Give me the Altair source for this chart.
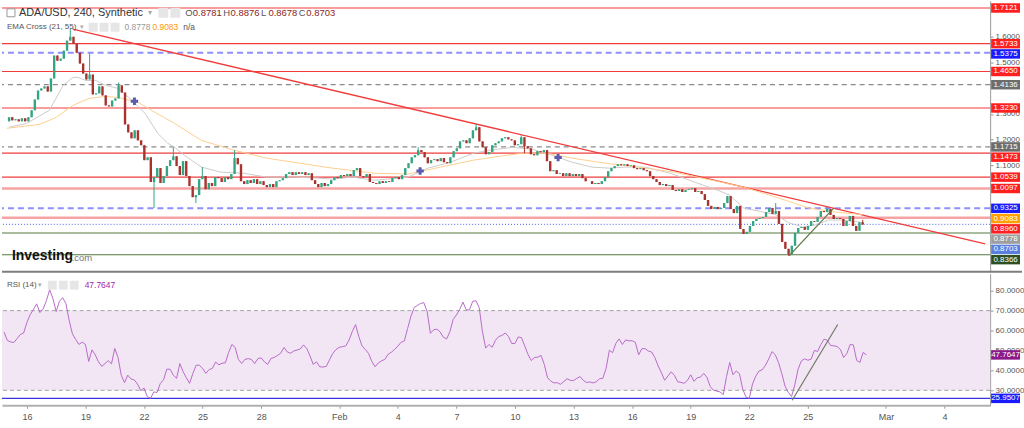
import altair as alt
import pandas as pd

# ---------------- data ----------------
# 4h candles, first bar Jan 14 20:00; time axis = days from Jan 16 00:00
first_bar_day = -7 / 6
bar_days = 4 / 24
first_open = 1.271
closes = [
    1.287, 1.275, 1.279, 1.271, 1.283, 1.271, 1.287, 1.314, 1.356, 1.391,
    1.399, 1.407, 1.387, 1.438, 1.527, 1.507, 1.515, 1.546, 1.585, 1.600,
    1.573, 1.538, 1.496, 1.457, 1.434, 1.453, 1.376, 1.380, 1.407, 1.372,
    1.333, 1.329, 1.352, 1.360, 1.411, 1.383, 1.259, 1.228, 1.205, 1.236,
    1.197, 1.178, 1.120, 1.131, 1.035, 1.054, 1.089, 1.031, 1.058, 1.097,
    1.120, 1.135, 1.097, 1.062, 1.116, 1.058, 1.019, 0.976, 0.984, 1.046,
    1.058, 1.007, 1.031, 1.019, 1.054, 1.050, 1.035, 1.054, 1.046, 1.066,
    1.128, 1.104, 1.038, 1.027, 1.042, 1.031, 1.046, 1.027, 1.038, 1.023,
    1.015, 1.027, 1.015, 1.038, 1.042, 1.050, 1.066, 1.073, 1.062, 1.073,
    1.066, 1.073, 1.062, 1.069, 1.042, 1.027, 1.015, 1.031, 1.019, 1.027,
    1.042, 1.054, 1.050, 1.062, 1.058, 1.066, 1.058, 1.081, 1.089, 1.058,
    1.054, 1.066, 1.035, 1.031, 1.027, 1.038, 1.031, 1.038, 1.035, 1.050,
    1.054, 1.046, 1.062, 1.089, 1.108, 1.131, 1.139, 1.159, 1.151, 1.131,
    1.108, 1.120, 1.124, 1.116, 1.128, 1.112, 1.108, 1.131, 1.155, 1.166,
    1.193, 1.197, 1.186, 1.205, 1.236, 1.248, 1.193, 1.170, 1.143, 1.151,
    1.178, 1.186, 1.193, 1.205, 1.209, 1.201, 1.197, 1.178, 1.182, 1.209,
    1.174, 1.166, 1.143, 1.139, 1.155, 1.151, 1.159, 1.116, 1.077, 1.081,
    1.066, 1.069, 1.058, 1.069, 1.058, 1.066, 1.058, 1.066, 1.050, 1.038,
    1.038, 1.027, 1.031, 1.027, 1.038, 1.054, 1.077, 1.089, 1.097, 1.104,
    1.100, 1.104, 1.097, 1.100, 1.089, 1.085, 1.089, 1.081, 1.077, 1.058,
    1.046, 1.035, 1.023, 1.027, 1.019, 1.023, 1.004, 1.000, 1.007, 0.996,
    1.004, 1.007, 1.011, 0.996, 1.000, 0.988, 0.965, 0.942, 0.930, 0.938,
    0.930, 0.934, 0.953, 0.980, 0.930, 0.914, 0.942, 0.852, 0.833, 0.841,
    0.864, 0.883, 0.891, 0.895, 0.899, 0.918, 0.934, 0.911, 0.922, 0.872,
    0.802, 0.775, 0.755, 0.787, 0.837, 0.856, 0.860, 0.849, 0.864, 0.883,
    0.880, 0.899, 0.922, 0.918, 0.930, 0.907, 0.891, 0.895, 0.891, 0.864,
    0.883, 0.903, 0.864, 0.845, 0.8781, 0.8703,
]
wick_high = {19: 1.631, 25: 1.535, 34: 1.422, 51: 1.170, 60: 1.093, 70: 1.159,
             127: 1.170, 145: 1.259, 159: 1.217, 238: 0.953, 254: 0.938, 265: 0.8876}
wick_low = {45: 0.934, 58: 0.953, 160: 1.147, 242: 0.748, 265: 0.8678}

rsi = [
    59.2, 55, 54.3, 54, 56, 58, 58.8, 64, 68, 70.5,
    73.4, 69, 70.8, 75, 80.5, 76, 69.5, 74.7, 76.5, 73.5,
    65, 58.3, 55.5, 53, 54.2, 53, 44.5, 50.3, 47.8, 44.3,
    42, 43.4, 44.9, 43.3, 51, 46.5, 37.6, 33.8, 37.6, 35.7,
    35.2, 33.2, 29.8, 31.1, 26.8, 26, 29.2, 28.9, 33.4, 35.3,
    40.6, 40.6, 37.6, 36, 43.4, 39.4, 36.3, 33.5, 38.4, 42.6,
    42.6, 41, 38.5, 40.4, 41, 44.2, 42.8, 43.6, 43.8, 49,
    53, 51.5, 45.5, 43.5, 45.5, 45.9, 45.5, 43.4, 45.9, 46.3,
    44.3, 43, 46, 46.5, 47.5, 48.6, 51.5, 49.3, 48.6, 49.7,
    50.2, 50.7, 52.8, 51, 47.3, 43, 44.3, 41.8, 41.7, 42,
    45.3, 48.5, 50.5, 51.6, 51.9, 52.3, 55.2, 59.5, 63, 57,
    52.3, 50.5, 48.5, 44.5, 41.8, 43.7, 44.8, 45.5, 48.1, 49.1,
    50.5, 52.2, 54.1, 54.8, 61, 67, 71.5, 72.6, 73.6, 74,
    69.5, 58.6, 60.4, 60.7, 59.3, 56.6, 55.8, 59.4, 65.6, 67.8,
    70.6, 74.3, 70.4, 70.3, 74.6, 75, 71.5, 59.4, 51.2, 53,
    51.6, 55.1, 57, 57.5, 58.8, 57, 53.5, 53.5, 56.8, 56.4,
    52.3, 48, 44.9, 46.5, 46.6, 47.5, 43, 36.3, 34.6, 33.7,
    33.8, 33, 34.4, 35.8, 35, 34.9, 36, 36.9, 35, 33.9,
    34.2, 33.7, 34.3, 35.8, 36, 41, 50.1, 48.9, 53.6, 55.8,
    53, 55.3, 54.8, 54.9, 54, 47.8, 50.9, 50.9, 49.7, 49.2,
    46.4, 42.2, 38.8, 35, 37.2, 39.3, 37.5, 34.3, 34, 33.5,
    35, 37.8, 34.5, 36.3, 36.6, 38.5, 36.5, 31.9, 30, 29.6,
    29.2, 27.8, 36.8, 44, 37.8, 39.7, 38.3, 30.5, 26.6, 26,
    33.2, 37.1, 39.7, 40.3, 42.6, 45.8, 49.4, 47.8, 43.9, 38.4,
    32.1, 28.9, 26.9, 32.8, 40.6, 44.7, 45.8, 45.1, 45.6, 50,
    49.5, 53, 55.7, 55.1, 52.5, 52.3, 52, 50.5, 46.5, 48.5,
    53, 52.8, 45, 44, 49, 47.7647,
]

ema21_day = [-1.17, -0.26, 0.92, 1.63, 2.14, 2.40, 2.81, 3.32, 3.83, 4.49, 5.20, 5.87,
             6.53, 7.04, 7.40, 7.91, 8.78, 9.80, 10.97, 12.14, 13.52, 14.90, 15.56,
             16.58, 17.76, 19.49, 20.51, 21.68, 22.86, 23.72, 24.90, 25.92, 26.94,
             27.96, 28.98, 29.85, 30.71, 31.73, 33.06, 34.44, 35.46, 36.12, 36.84,
             37.86, 38.52, 39.18, 39.90, 40.56, 41.22, 41.94, 42.96]
ema21_val = [1.248, 1.263, 1.314, 1.411, 1.442, 1.442, 1.430, 1.430, 1.411, 1.399, 1.352,
             1.302, 1.224, 1.186, 1.170, 1.139, 1.093, 1.073, 1.069, 1.054, 1.054, 1.050,
             1.046, 1.054, 1.042, 1.054, 1.089, 1.112, 1.147, 1.159, 1.170, 1.162, 1.139,
             1.112, 1.093, 1.089, 1.093, 1.093, 1.069, 1.031, 1.004, 0.984, 0.934, 0.918,
             0.907, 0.876, 0.860, 0.868, 0.887, 0.887, 0.8778]
ema55_day = [-1.28, 0.41, 1.28, 2.14, 2.96, 3.83, 4.49, 5.51, 6.38, 7.40, 8.78, 10.46,
             12.14, 13.88, 15.56, 17.76, 19.49, 21.17, 22.86, 24.59, 25.41, 26.63,
             27.96, 29.69, 31.38, 33.27, 34.44, 35.46, 36.84, 38.52, 40.20, 41.58, 42.96]
ema55_val = [1.244, 1.259, 1.287, 1.333, 1.360, 1.368, 1.364, 1.345, 1.306, 1.263, 1.197,
             1.159, 1.128, 1.108, 1.089, 1.069, 1.066, 1.093, 1.120, 1.139, 1.147, 1.147,
             1.128, 1.108, 1.093, 1.073, 1.054, 1.038, 1.015, 0.976, 0.934, 0.918, 0.9083]

cross_day = [5.32, 20.10, 27.24]
cross_val = [1.349, 1.078, 1.130]

red_levels = [1.7121, 1.5733, 1.4650, 1.3230, 1.1473, 1.0539]
pink_levels = [1.0097, 0.8960]
blue_levels = [1.5375, 0.9325]
gray_levels = [1.4136, 1.1715]
green_levels = [0.8366, 0.7520]
last_price = 0.8703

label_vals = [1.7121, 1.5733, 1.5375, 1.4650, 1.4136, 1.3230, 1.1715, 1.1473, 1.0539,
              1.0097, 0.9325, 0.9083, 0.8960, 0.8778, 0.8703, 0.8366]
label_kind = ["red", "red", "blue", "red", "gray", "red", "gray", "red", "red",
              "red", "blue", "ema55", "red", "ema21", "last", "green"]

trend_red_day = [2.13, 49.34]
trend_red_val = [1.630, 0.794]
trend_green_day = [39.2, 41.5]
trend_green_val = [0.748, 0.933]
rsi_trend_day = [39.2, 41.53]
rsi_trend_val = [25.0, 63.0]
rsi_level = 25.9507
rsi_last = 47.7647

tick_days = [0, 3, 6, 9, 12, 16, 19, 22, 25, 28, 31, 34, 37, 40, 44, 47]
tick_labels = ["16", "19", "22", "25", "28", "Feb", "4", "7", "10", "13", "16", "19",
               "22", "25", "Mar", "4"]
price_ticks = [1.1, 1.2, 1.3, 1.5, 1.6]
rsi_ticks = [30, 40, 50, 60, 70, 80]

# ---------------- layout / style ----------------
FONT = "Liberation Sans"
W, PRICE_H, RSI_H = 992, 272, 132
T0, T1 = -1.2755, 49.337
P_LO, P_HI = 0.6857, 1.740
R_LO, R_HI = 22.5, 88.5
UP, DOWN = "#34a582", "#a8322d"
BOX_H = 9.5

xs = alt.Scale(domain=[T0, T1], nice=False, zero=False)
ps = alt.Scale(domain=[P_LO, P_HI], nice=False, zero=False)
rs = alt.Scale(domain=[R_LO, R_HI], nice=False, zero=False)

axis_common = dict(orient="right", format=".4f", labelFontSize=8, labelColor="#555",
                   labelFont=FONT, tickSize=3, tickColor="#999", domainColor="#999",
                   grid=False, title=None, labelPadding=2)
p_axis = alt.Axis(values=price_ticks, **axis_common)
r_axis = alt.Axis(values=rsi_ticks, **axis_common)

labels_js = "[" + ",".join("'%s'" % s for s in tick_labels) + "]"
vals_js = "[" + ",".join(str(v) for v in tick_days) + "]"
x_axis = alt.Axis(values=tick_days, labelExpr="%s[indexof(%s, datum.value)]" % (labels_js, vals_js),
                  labelFontSize=9, labelColor="#555", labelFont=FONT, tickSize=3,
                  tickColor="#999", domainColor="#b0b0b0", domainWidth=2, grid=False,
                  title=None, labelPadding=4, labelFlush=False)


def PX(f):
    return alt.X(f, type="quantitative", scale=xs, axis=None)


def RX(f):
    return alt.X(f, type="quantitative", scale=xs, axis=x_axis)


def PY(f):
    return alt.Y(f, type="quantitative", scale=ps, axis=p_axis)


def RY(f):
    return alt.Y(f, type="quantitative", scale=rs, axis=r_axis)


one = pd.DataFrame({"k": [0]})


def txt(s, x, y, size, color, weight="normal", align="left"):
    return alt.Chart(one).mark_text(text=s, align=align, baseline="middle", fontSize=size,
                                    color=color, fontWeight=weight, font=FONT).encode(
        x=alt.value(x), y=alt.value(y))


def box(x0, y0, x1, y1, fill, stroke=None):
    kw = dict(color=fill)
    if stroke:
        kw = dict(fill=fill, stroke=stroke, strokeWidth=1)
    return alt.Chart(one).mark_rect(**kw).encode(
        x=alt.value(x0), x2=alt.value(x1), y=alt.value(y0), y2=alt.value(y1))


# ---------------- price panel ----------------
n = len(closes)
opens = [first_open] + closes[:-1]
cdf = pd.DataFrame({
    "t": [first_bar_day + i * bar_days for i in range(n)],
    "open": opens,
    "close": closes,
})
cdf["high"] = [wick_high.get(i, max(opens[i], closes[i])) for i in range(n)]
cdf["low"] = [wick_low.get(i, min(opens[i], closes[i])) for i in range(n)]
cdf["dir"] = ["up" if c >= o else "down" for o, c in zip(opens, closes)]
ccolor = alt.Color("dir:N", scale=alt.Scale(domain=["up", "down"], range=[UP, DOWN]), legend=None)


def level_layer(vals, color, width, dash=None):
    kw = dict(color=color, strokeWidth=width)
    if dash:
        kw["strokeDash"] = dash
    return alt.Chart(pd.DataFrame({"v": vals})).mark_rule(**kw).encode(y=PY("v"))


levels = [
    level_layer(red_levels, "#f23b3b", 1.2),
    level_layer(pink_levels, "#f7a3a3", 2.5),
    level_layer(blue_levels, "#8f8fff", 2, [6, 4]),
    level_layer(gray_levels, "#8a8a8a", 1.3, [5, 4]),
    level_layer(green_levels, "#557a3e", 1.2),
    level_layer([last_price], "#4a5fe8", 1, [1, 2]),
]

trend_red = alt.Chart(pd.DataFrame({"t": trend_red_day, "v": trend_red_val})).mark_line(
    color="#f23b3b", strokeWidth=1.3, clip=True).encode(x=PX("t"), y=PY("v"))
trend_green = alt.Chart(pd.DataFrame({"t": trend_green_day, "v": trend_green_val})).mark_line(
    color="#5e7a48", strokeWidth=1.2, clip=True).encode(x=PX("t"), y=PY("v"))
ema21 = alt.Chart(pd.DataFrame({"t": ema21_day, "v": ema21_val})).mark_line(
    color="#cccccc", strokeWidth=1).encode(x=PX("t"), y=PY("v"))
ema55 = alt.Chart(pd.DataFrame({"t": ema55_day, "v": ema55_val})).mark_line(
    color="#ffcf8f", strokeWidth=1).encode(x=PX("t"), y=PY("v"))

wicks = alt.Chart(cdf).mark_rule(strokeWidth=1).encode(
    x=PX("t"), y=PY("low"), y2="high", color=ccolor)
bodies = alt.Chart(cdf).mark_bar(size=2.4).encode(
    x=PX("t"), y=PY("open"), y2="close", color=ccolor)
crosses = alt.Chart(pd.DataFrame({"t": cross_day, "v": cross_val})).mark_point(
    shape="cross", filled=True, size=55, color="#5a5aae", opacity=1).encode(x=PX("t"), y=PY("v"))

# right-hand value labels, stacked so they do not overlap
ppu = PRICE_H / (P_HI - P_LO)
order = sorted(range(len(label_vals)), key=lambda k: -label_vals[k])
rows, prev = [], None
for k in order:
    py = (P_HI - label_vals[k]) * ppu
    if prev is not None and py < prev + 10.3:
        py = prev + 10.3
    prev = py
    vl = P_HI - py / ppu
    rows.append({"txt": "%.4f" % label_vals[k], "kind": label_kind[k], "vl": vl,
                 "top": vl + BOX_H / 2 / ppu, "bot": vl - BOX_H / 2 / ppu})
ldf = pd.DataFrame(rows)
kfill = alt.Fill("kind:N", scale=alt.Scale(
    domain=["red", "blue", "gray", "ema55", "ema21", "last", "green"],
    range=["#ff1f1f", "#1a1aff", "#6d6d6d", "#ff9f00", "#9e9e9e", "#5b7fe0", "#2d4f22"]),
    legend=None)
lbox = alt.Chart(ldf).mark_rect().encode(
    x=alt.value(993), x2=alt.value(1022), y=PY("top"), y2="bot", fill=kfill)
ltxt = alt.Chart(ldf).mark_text(color="white", fontSize=8, font=FONT, align="center",
                                baseline="middle").encode(
    x=alt.value(1007.5), y=PY("vl"), text="txt:N")

ohlc_layers = []
xpos = 184
for letter, val in [("O", "0.8781"), ("H", "0.8876"), ("L", "0.8678"), ("C", "0.8703")]:
    ohlc_layers.append(txt(letter, xpos, 12.5, 9.5, "#555"))
    ohlc_layers.append(txt(val, xpos + 7.5, 12.5, 9.5, "#8b1e1e"))
    xpos += 38

header = [
    box(5, 8, 13, 16, "white", "#999"),
    txt("ADA/USD, 240, Synthetic", 17, 12.5, 11, "#333"),
    txt("\u25be", 147, 12.5, 8, "#aaa"),
    box(157, 7, 167, 17, "#e6e6e6"),
    box(169, 7, 179, 17, "#e6e6e6"),
    *ohlc_layers,
    txt("EMA Cross (21, 55)", 5, 26, 8, "#555"),
    txt("\u25be", 78, 26, 7, "#aaa"),
    box(87, 22, 96, 31, "#e6e6e6"),
    box(98, 22, 107, 31, "#e6e6e6"),
    box(109, 22, 118, 31, "#e6e6e6"),
    txt("0.8778", 123, 26.5, 8.5, "#999"),
    txt("0.9083", 151, 26.5, 8.5, "#ff9800"),
    txt("n/a", 182, 26.5, 8.5, "#555"),
    txt("Investing", 10, 256, 14, "#111", "bold"),
    txt(".com", 70, 258, 9.5, "#777"),
]
sep = alt.Chart(one).mark_rule(color="#7d7d7d", strokeWidth=2).encode(
    x=alt.value(0), x2=alt.value(1024), y=alt.value(272))

price = alt.layer(*levels, trend_red, ema21, ema55, wicks, bodies, trend_green, crosses,
                  lbox, ltxt, *header, sep).properties(width=W, height=PRICE_H)

# ---------------- RSI panel ----------------
rdf = pd.DataFrame({"t": [first_bar_day + i * bar_days for i in range(len(rsi))], "v": rsi})
band = alt.Chart(pd.DataFrame({"hi": [70], "lo": [30]})).mark_rect(color="#f2e6f4").encode(
    x=alt.value(0), x2=alt.value(W), y=RY("hi"), y2="lo")
bounds_l = alt.Chart(pd.DataFrame({"v": [70, 30]})).mark_rule(
    color="#a3a3a3", strokeDash=[4, 3], strokeWidth=1).encode(y=RY("v"))
rsi_blue = alt.Chart(pd.DataFrame({"v": [rsi_level]})).mark_rule(
    color="#3434e0", strokeWidth=1.2).encode(y=RY("v"))
rsi_line = alt.Chart(rdf).mark_line(color="#b86bc9", strokeWidth=1).encode(x=RX("t"), y=RY("v"))
rsi_tr = alt.Chart(pd.DataFrame({"t": rsi_trend_day, "v": rsi_trend_val})).mark_line(
    color="#6f7a63", strokeWidth=1.2).encode(x=RX("t"), y=RY("v"))

rppu = RSI_H / (R_HI - R_LO)
r_rows = [{"txt": "%.4f" % rsi_last, "kind": "rsi", "vl": rsi_last},
          {"txt": "%.4f" % rsi_level, "kind": "lvl", "vl": rsi_level}]
rldf = pd.DataFrame(r_rows)
rldf["top"] = rldf["vl"] + BOX_H / 2 / rppu
rldf["bot"] = rldf["vl"] - BOX_H / 2 / rppu
rfill = alt.Fill("kind:N", scale=alt.Scale(domain=["rsi", "lvl"], range=["#8a1a8a", "#1a1aff"]),
                 legend=None)
rbox = alt.Chart(rldf).mark_rect().encode(
    x=alt.value(993), x2=alt.value(1022), y=RY("top"), y2="bot", fill=rfill)
rtxt = alt.Chart(rldf).mark_text(color="white", fontSize=8, font=FONT, align="center",
                                 baseline="middle").encode(
    x=alt.value(1007.5), y=RY("vl"), text="txt:N")
rheader = [
    txt("RSI (14)", 5, 11, 8, "#555"),
    txt("\u25be", 36, 11, 7, "#aaa"),
    box(46, 7, 55, 16, "#e6e6e6"),
    box(57, 7, 66, 16, "#e6e6e6"),
    box(68, 7, 77, 16, "#e6e6e6"),
    txt("47.7647", 83, 11.5, 8.5, "#9c27b0"),
]

rsi_chart = alt.layer(band, bounds_l, rsi_blue, rsi_line, rsi_tr, rbox, rtxt, *rheader).properties(
    width=W, height=RSI_H)

chart = alt.vconcat(price, rsi_chart, spacing=2, bounds="flush").resolve_scale(
    color="independent", fill="independent"
).properties(
    padding={"left": 0, "right": 0, "top": 0, "bottom": 0}, background="white"
).configure_view(stroke=None)

chart.save("out.html", embed_options={"renderer": "svg", "actions": False})
